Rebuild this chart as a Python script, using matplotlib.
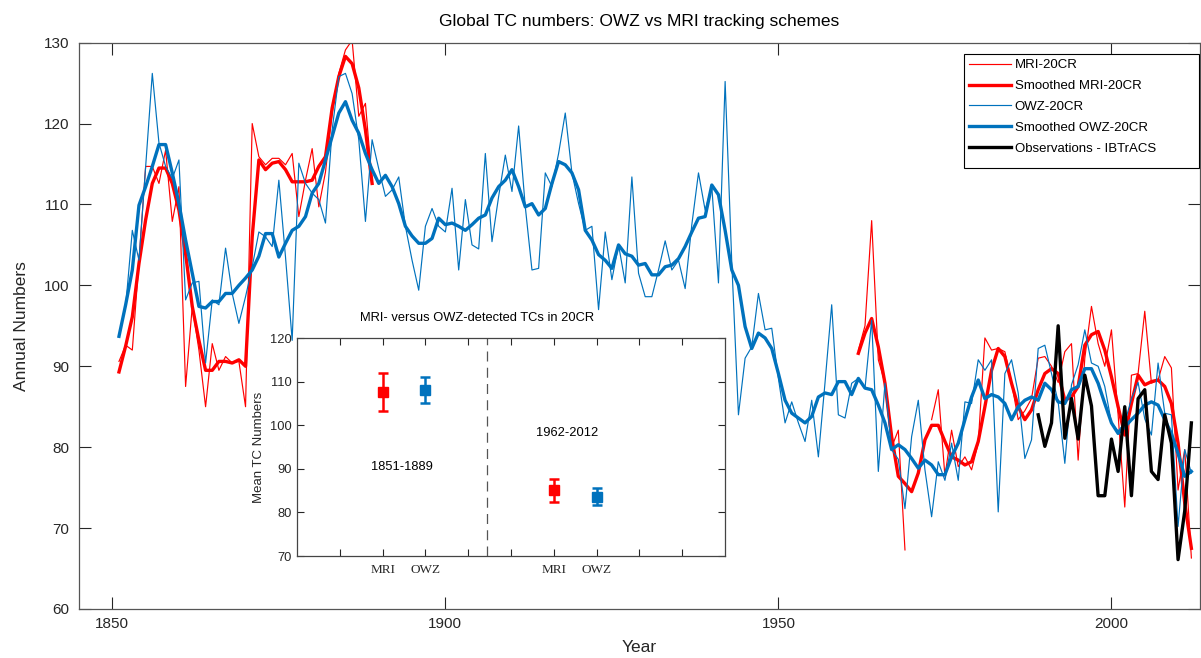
import numpy as np
import matplotlib.pyplot as plt
from matplotlib.lines import Line2D
from matplotlib.patches import Rectangle

plt.rcParams['font.family'] = ['Liberation Sans', 'DejaVu Sans']

RED = '#FF0000'
BLUE = '#0072BD'

years = np.arange(1851, 2013)

# MRI-20CR annual counts (two periods)
mri_early = [90.6, 92.6, 92.0, 103.0, 114.7, 114.7, 112.6, 116.7, 107.9, 112.2,
             87.5, 97.4, 92.0, 85.0, 92.8, 89.5, 91.2, 90.4, 90.6, 85.0,
             120.0, 115.9, 114.9, 115.7, 115.7, 114.9, 116.3, 108.5, 113.0, 116.9,
             109.7, 114.0, 121.3, 126.2, 129.1, 130.3, 120.9, 122.5, 112.6]
mri_late = [92.0, 95.0, 108.0, 90.8, 87.9, 80.0, 82.1, 67.3, np.nan, np.nan,
            np.nan, 83.4, 87.1, 76.4, 82.1, 77.6, 78.8, 77.2, 80.5, 93.5,
            92.0, 92.2, 91.8, 88.0, 83.4, 84.5, 86.0, 91.0, 91.2, 90.0,
            88.0, 91.8, 92.8, 78.4, 91.0, 97.4, 92.8, 90.0, 94.5, 84.0,
            72.6, 88.9, 89.1, 96.8, 87.9, 88.3, 91.2, 89.8, 74.7, 79.7, 66.3]

mri_smooth_early = [89.3, 92.5, 96.1, 102.7, 108.1, 112.6, 114.5, 114.5, 112.6, 109.3,
                    103.9, 97.4, 93.2, 89.5, 89.5, 90.6, 90.6, 90.4, 90.8, 90.0,
                    106.0, 115.5, 114.3, 115.1, 115.3, 114.3, 112.8, 112.8, 112.8, 113.0,
                    114.7, 115.9, 121.9, 125.8, 128.3, 127.4, 124.4, 119.2, 112.6]
mri_smooth_late = [91.6, 94.1, 95.9, 92.4, 87.9, 81.3, 76.4, 75.5, 74.5, 76.8,
                   80.9, 82.7, 82.7, 80.7, 78.8, 78.4, 77.8, 78.2, 80.7, 85.0,
                   89.5, 92.2, 91.2, 87.9, 85.0, 83.4, 84.6, 87.1, 89.1, 89.7,
                   89.1, 85.8, 86.2, 87.5, 92.6, 93.9, 94.3, 92.0, 88.7, 85.0,
                   81.5, 85.4, 88.9, 87.7, 88.1, 88.3, 87.5, 85.4, 80.5, 73.1, 67.5]

# OWZ-20CR annual counts, 1851-2012
owz = [93.7, 97.4, 106.8, 103.1, 114.7, 126.2, 117.6, 114.7, 113.2, 115.5,
       98.2, 100.3, 100.5, 90.4, 98.2, 97.6, 104.6, 99.0, 95.3, 98.6,
       102.3, 106.6, 106.0, 104.8, 113.0, 103.5, 93.2, 115.1, 112.6, 111.4,
       110.6, 107.7, 119.2, 125.8, 126.2, 123.7, 118.0, 107.9, 118.0, 114.4,
       111.0, 111.8, 113.4, 107.3, 103.1, 99.4, 107.3, 109.5, 107.3, 106.6,
       112.0, 101.9, 110.6, 105.0, 104.5, 116.3, 105.4, 111.0, 116.1, 111.6,
       119.7, 109.7, 101.9, 102.1, 113.9, 112.2, 116.3, 121.3, 113.9, 110.1,
       106.8, 107.3, 97.0, 106.6, 100.7, 105.0, 100.3, 113.4, 101.5, 98.6,
       98.6, 101.9, 105.5, 101.9, 103.1, 99.6, 107.5, 113.9, 109.3, 112.2,
       100.3, 125.2, 102.8, 84.0, 91.0, 92.4, 99.0, 94.5, 94.7, 88.5,
       83.0, 85.6, 83.0, 80.7, 85.8, 78.8, 88.0, 97.6, 84.0, 83.6,
       87.9, 88.5, 87.3, 95.7, 77.0, 87.9, 79.7, 78.5, 72.4, 81.3,
       85.8, 77.2, 71.4, 78.2, 75.9, 80.5, 75.9, 85.6, 85.4, 90.8,
       89.5, 90.8, 72.0, 89.1, 90.8, 86.7, 78.6, 80.9, 92.2, 92.6,
       89.1, 85.6, 78.0, 87.7, 90.2, 94.5, 90.4, 90.0, 87.5, 83.0,
       82.0, 83.0, 86.0, 88.0, 83.5, 81.5, 90.4, 84.2, 84.0, 70.2,
       79.7, 76.8]

owz_smooth = [93.7, 97.6, 101.9, 109.9, 112.2, 114.7, 117.4, 117.4, 113.9, 110.1,
              105.6, 101.5, 97.4, 97.2, 98.0, 98.0, 99.0, 99.0, 100.0, 100.9,
              101.9, 103.6, 106.4, 106.4, 103.5, 105.2, 106.8, 107.3, 108.5, 111.4,
              112.6, 115.5, 118.4, 121.3, 122.7, 120.4, 118.8, 116.3, 114.3, 112.6,
              113.6, 112.2, 110.1, 107.3, 106.1, 105.2, 105.2, 105.8, 108.3, 107.5,
              107.7, 107.3, 106.8, 107.5, 108.3, 108.7, 110.8, 112.2, 113.0, 114.3,
              112.2, 109.7, 110.1, 108.7, 109.5, 112.6, 115.3, 114.9, 113.9, 111.8,
              106.8, 105.6, 103.8, 103.1, 102.1, 105.0, 103.9, 103.6, 102.5, 102.7,
              101.3, 101.3, 102.3, 102.5, 103.3, 104.8, 106.6, 108.3, 108.5, 112.4,
              111.2, 106.8, 101.9, 100.0, 94.9, 92.2, 94.1, 93.5, 92.2, 89.1,
              85.8, 84.2, 83.6, 83.0, 83.8, 86.2, 86.7, 86.5, 88.1, 88.1,
              86.5, 88.5, 87.3, 87.1, 85.2, 83.0, 79.7, 80.3, 79.7, 78.6,
              77.4, 78.4, 77.8, 76.6, 76.6, 78.8, 80.5, 83.4, 86.2, 88.3,
              86.0, 86.5, 86.2, 85.4, 83.4, 85.0, 85.8, 86.2, 85.8, 87.9,
              87.1, 85.6, 85.4, 87.1, 87.5, 89.7, 89.7, 87.9, 85.4, 83.0,
              81.7, 82.5, 83.4, 84.2, 85.2, 85.6, 85.2, 83.4, 81.7, 79.2,
              76.4, 77.0]

# IBTrACS observations, 1989-2012
obs_years = np.arange(1989, 2013)
obs = [84.0, 80.1, 83.0, 95.0, 81.1, 86.0, 81.0, 88.9, 85.1, 74.0,
       74.0, 81.0, 77.0, 85.0, 74.0, 86.0, 87.1, 77.0, 76.0, 84.0,
       80.5, 66.1, 72.1, 83.0]

# Period means with error bars for the inset
periods = ['1851-1889', '1962-2012']
mean_mri = [107.6, 85.1]
err_mri = [4.3, 2.6]
mean_owz = [108.1, 83.6]
err_owz = [3.0, 1.9]

gap = [np.nan] * (1961 - 1890 + 1)
mri = np.array(mri_early + gap + mri_late, dtype=float)
mri_smooth = np.array(mri_smooth_early + gap + mri_smooth_late, dtype=float)

THIN, THICK = 0.85, 2.4

fig = plt.figure(figsize=(12.01, 6.58), dpi=100)
ax = fig.add_axes([0.0658, 0.0745, 0.9334, 0.8607])

ax.plot(years, mri, color=RED, lw=THIN)
ax.plot(years, mri_smooth, color=RED, lw=THICK)
ax.plot(years, owz, color=BLUE, lw=THIN)
ax.plot(years, owz_smooth, color=BLUE, lw=THICK)
ax.plot(obs_years, obs, color='black', lw=THICK)

ax.set_xlim(1845, 2013.3)
ax.set_ylim(60, 130)
ax.set_xticks([1850, 1900, 1950, 2000])
ax.set_yticks(range(60, 131, 10))
ax.tick_params(direction='in', length=8.5, width=0.8, colors='#262626',
               labelsize=11, top=True, right=True, labelcolor='#262626')
ax.tick_params(axis='x', pad=6)
ax.tick_params(axis='y', pad=7)
for s in ax.spines.values():
    s.set_color('#555555')
    s.set_linewidth(0.9)
ax.set_xlabel('Year', fontsize=12.5, color='#262626', labelpad=6)
ax.set_ylabel('Annual Numbers', fontsize=12.5, color='#262626', labelpad=11)
ax.set_title('Global TC numbers: OWZ vs MRI tracking schemes', fontsize=12.5,
             color='black', pad=12)

# Legend with a plain rectangular frame
x0, x1 = (964 - 79) / 1121, (1199 - 79) / 1121
y0, y1 = (609 - 168) / 566.3, (609 - 54) / 566.3
ax.add_patch(Rectangle((x0, y0), x1 - x0, y1 - y0, transform=ax.transAxes,
                       facecolor='white', edgecolor='black', lw=0.8, zorder=5))
handles = [Line2D([], [], color=RED, lw=THIN),
           Line2D([], [], color=RED, lw=THICK),
           Line2D([], [], color=BLUE, lw=THIN),
           Line2D([], [], color=BLUE, lw=THICK),
           Line2D([], [], color='black', lw=THICK)]
labels = ['MRI-20CR', 'Smoothed MRI-20CR', 'OWZ-20CR', 'Smoothed OWZ-20CR',
          'Observations - IBTrACS']
leg = ax.legend(handles, labels, loc='upper left', bbox_to_anchor=(x0, y1),
                borderaxespad=0.0, fontsize=9.5, handlelength=3.2,
                handletextpad=0.25, labelspacing=0.66, borderpad=0.38,
                frameon=False)
leg.set_zorder(6)

# Inset: period means
ins = fig.add_axes([0.2473, 0.155, 0.3564, 0.3313])
ins.set_facecolor('white')
x_mri = [2, 6]
x_owz = [3, 7]
ins.errorbar(x_mri, mean_mri, yerr=err_mri, fmt='s', color=RED, ms=6.5,
             elinewidth=1.8, capsize=3.5, capthick=1.8)
ins.errorbar(x_owz, mean_owz, yerr=err_owz, fmt='s', color=BLUE, ms=6.5,
             elinewidth=1.8, capsize=3.5, capthick=1.8)
ins.axvline(4.45, color='#555555', lw=0.9, ls=(0, (8, 5)))
ins.set_xlim(0, 10)
ins.set_ylim(70, 120)
ins.set_yticks(range(70, 121, 10))
ins.set_xticks(range(1, 10))
tick_text = ['', 'MRI', 'OWZ', '', '', 'MRI', 'OWZ', '', '']
ins.set_xticklabels(tick_text, family='Liberation Serif', fontsize=9.5)
ins.tick_params(direction='in', length=5, width=0.8, colors='#262626',
                labelsize=9.3, top=True, right=True)
ins.tick_params(axis='x', labelsize=9.5, pad=6)
for s in ins.spines.values():
    s.set_color('#444444')
    s.set_linewidth(0.9)
ins.set_ylabel('Mean TC Numbers', fontsize=9.5, color='#262626', labelpad=4)
ins.text(2.45, 90.5, periods[0], fontsize=9.3, ha='center', va='center')
ins.text(6.3, 98.2, periods[1], fontsize=9.3, ha='center', va='center')
fig.text(477 / 1201, 1 - 318 / 658, 'MRI- versus OWZ-detected TCs in 20CR',
         fontsize=9.3, ha='center', va='center')

fig.savefig('out.png', dpi=100)
